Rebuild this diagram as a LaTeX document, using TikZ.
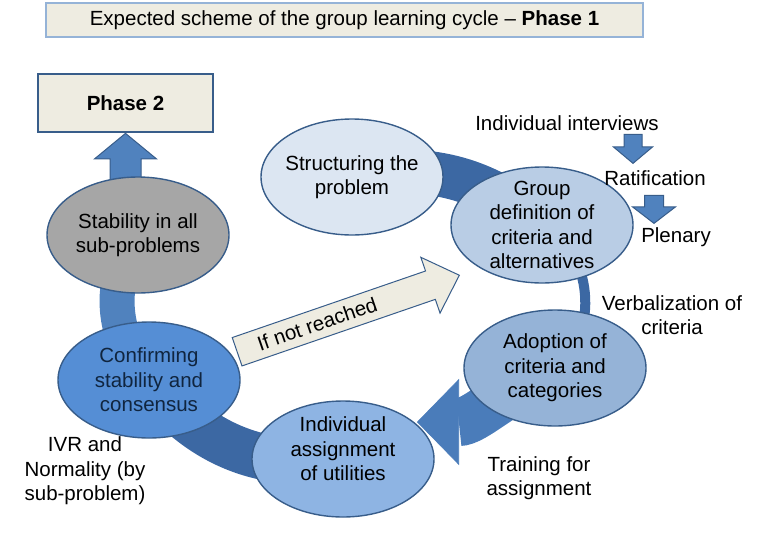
\documentclass[tikz,border=0pt]{standalone}
\usepackage{fontspec}
\setmainfont{Liberation Sans}
\usetikzlibrary{shapes.geometric,shapes.arrows,arrows.meta,backgrounds}
\definecolor{edge}{RGB}{56,93,138}
\definecolor{titleedge}{RGB}{149,179,215}
\definecolor{paper}{RGB}{238,236,225}
\definecolor{ringdark}{RGB}{60,104,163}
\definecolor{ringmid}{RGB}{74,124,186}
\definecolor{ringlight}{RGB}{80,130,190}
\definecolor{structfill}{RGB}{220,230,242}
\definecolor{groupfill}{RGB}{185,205,229}
\definecolor{adoptfill}{RGB}{149,179,215}
\definecolor{indivfill}{RGB}{142,180,227}
\definecolor{confirmfill}{RGB}{85,142,213}
\definecolor{stabfill}{RGB}{166,166,166}
\definecolor{navy}{RGB}{16,37,63}
\begin{document}
\begin{tikzpicture}
	[x=1pt,y=-1pt,font=\fontsize{20.5}{24.5}\selectfont,
	stage/.style={ellipse,draw=edge,line width=1.4pt,minimum width=182pt,minimum height=116pt,inner sep=-3pt,align=center},
	card/.style={rectangle,fill=paper,line width=1.4pt},
	blockarrow/.style={single arrow,fill=ringlight,draw=edge,line width=1pt,inner xsep=0pt,anchor=tip},
	note/.style={align=center,inner sep=1pt},>=latex]
	\useasboundingbox(0,0)rectangle(757,533);
	\node[card,draw=titleedge,minimum width=597pt,minimum height=34pt,name=title]at(344.5,20){Expected scheme of the group learning cycle -- \textbf{Phase 1}};
	\node[card,draw=edge,minimum width=175pt,minimum height=58pt,name=phase2]at(125.5,103){\textbf{Phase 2}};
	\node[stage,fill=stabfill,name=stab]at(138,235){Stability in all\\sub-problems};
	\node[stage,fill=structfill,name=struct]at(352,177){Structuring the\\problem};
	\node[stage,fill=groupfill,name=group]at(542,225){Group\\definition of\\criteria and\\alternatives};
	\node[stage,fill=adoptfill,name=adopt]at(555,368){Adoption of\\criteria and\\categories};
	\node[stage,fill=indivfill,text depth=20pt,name=indiv]at(343,459){Individual\\assignment\\of utilities};
	\node[stage,fill=confirmfill,text=navy,name=confirm]at(149,380){Confirming\\stability and\\consensus};
	\coordinate(handin)at(417,422);
	\node[blockarrow,fill=paper,inner xsep=3pt,inner ysep=7pt,text height=14.5pt,text depth=0.5pt,rotate=19,minimum height=235pt,minimum width=58pt,single arrow head extend=14.5pt,single arrow tip angle=88,name=retry]at(460,275){If not reached\hspace*{50pt}};
	\node[note,name=interv]at(567,123){Individual interviews};
	\node[note,name=ratif]at(655,178){Ratification};
	\node[note,name=plen]at(676,237){Plenary};
	\node[note,name=verbal]at(672,315){Verbalization of\\criteria};
	\node[note,name=train]at(539,478){Training for\\assignment};
	\node[note,name=ivr]at(85,471){IVR and\\Normality (by\\sub-problem)};
	\node[blockarrow,rotate=-90,inner ysep=8.5pt,minimum height=29pt,minimum width=38pt,single arrow head extend=10.5pt,single arrow tip angle=100,name=down1]at(633,164){};
	\node[blockarrow,rotate=-90,inner ysep=9pt,minimum height=28pt,minimum width=42pt,single arrow head extend=12pt,single arrow tip angle=105,name=down2]at(654,224){};
	\begin{pgfonlayer}{background}
	\draw[ringdark,line width=44pt](struct.center) to[bend left=25] (group.center);
	\draw[ringdark,line width=10pt](group.center) to[bend left=60] (adopt.center);
	\draw[ringmid,line width=48pt,-{Triangle[length=42pt,width=86pt,line width=0.6pt]}](adopt.center) to[out=205,in=0] (handin);
	\draw[ringdark,line width=46pt](indiv.center) to[bend left=30] (confirm.center);
	\draw[ringlight,line width=35pt](confirm.center) to[bend left=38] (stab.center);
	\node[blockarrow,rotate=90,inner ysep=15pt,minimum height=48pt,minimum width=61pt,single arrow head extend=15.5pt,single arrow tip angle=101,name=up]at(phase2.south){};
	\end{pgfonlayer}
\end{tikzpicture}
\end{document}
